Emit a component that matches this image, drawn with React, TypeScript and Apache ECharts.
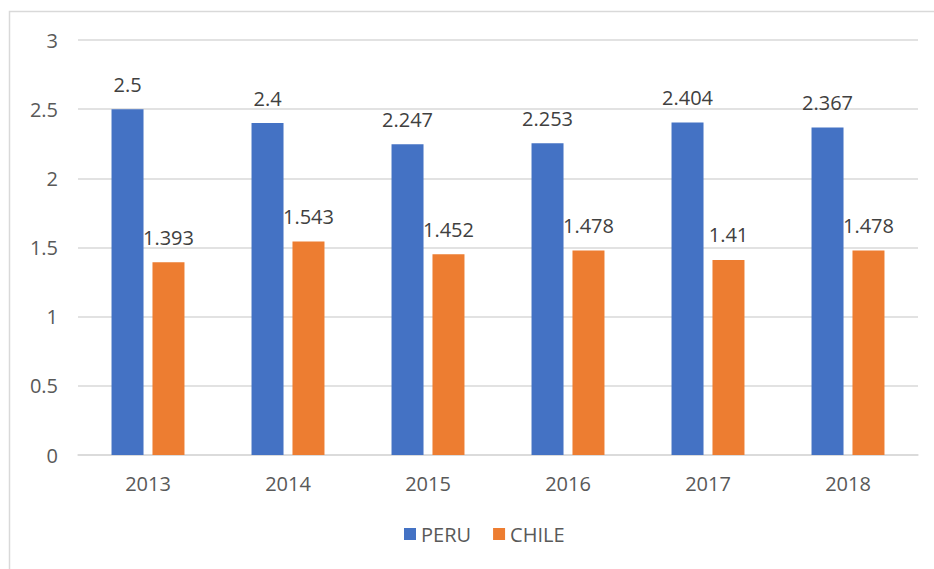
import React, { useEffect, useRef } from "react";
import * as echarts from "echarts";

const categories = ["2013", "2014", "2015", "2016", "2017", "2018"];
const peru = [2.5, 2.4, 2.247, 2.253, 2.404, 2.367];
const chile = [1.393, 1.543, 1.452, 1.478, 1.41, 1.478];
const seriesNames = ["PERU", "CHILE"];

const FONT = "'Open Sans', sans-serif";

export default function App() {
  const ref = useRef<HTMLDivElement>(null);
  useEffect(() => {
    if (!ref.current) return;
    const chart = echarts.init(ref.current, null, { renderer: "svg" });
    const labelStyle = {
      show: true,
      position: "top" as const,
      distance: 15,
      color: "#404040",
      fontSize: 20,
      fontFamily: FONT,
    };
    chart.setOption({
      animation: false,
      backgroundColor: "#ffffff",
      graphic: [
        {
          type: "rect",
          shape: { x: 9.5, y: 11.5, width: 940, height: 580 },
          style: { fill: "none", stroke: "#D9D9D9", lineWidth: 1.5 },
          silent: true,
        },
      ],
      grid: { left: 78, right: 16, top: 40, bottom: 114 },
      legend: {
        data: seriesNames,
        bottom: 20,
        left: 399,
        itemWidth: 12,
        itemHeight: 12,
        itemGap: 22,
        icon: "rect",
        textStyle: { color: "#595959", fontSize: 20, fontFamily: FONT },
      },
      xAxis: {
        type: "category",
        data: categories,
        axisLine: { lineStyle: { color: "#D9D9D9", width: 1.5 } },
        axisTick: { show: false },
        axisLabel: { color: "#595959", fontSize: 20, fontFamily: FONT, margin: 18 },
      },
      yAxis: {
        type: "value",
        min: 0,
        max: 3,
        interval: 0.5,
        axisLine: { show: false },
        axisTick: { show: false },
        splitLine: { lineStyle: { color: "#D9D9D9", width: 1.5 } },
        axisLabel: { color: "#595959", fontSize: 20, fontFamily: FONT, margin: 20 },
      },
      series: [
        {
          name: seriesNames[0],
          type: "bar",
          data: peru,
          barWidth: 32,
          barGap: "28%",
          itemStyle: { color: "#4472C4" },
          label: labelStyle,
        },
        {
          name: seriesNames[1],
          type: "bar",
          data: chile,
          barWidth: 32,
          barGap: "28%",
          itemStyle: { color: "#ED7D31" },
          label: labelStyle,
        },
      ],
    });
    return () => chart.dispose();
  }, []);
  return (
    <div
      ref={ref}
      style={{ position: "fixed", left: 0, top: 0, width: 934, height: 569 }}
    />
  );
}
